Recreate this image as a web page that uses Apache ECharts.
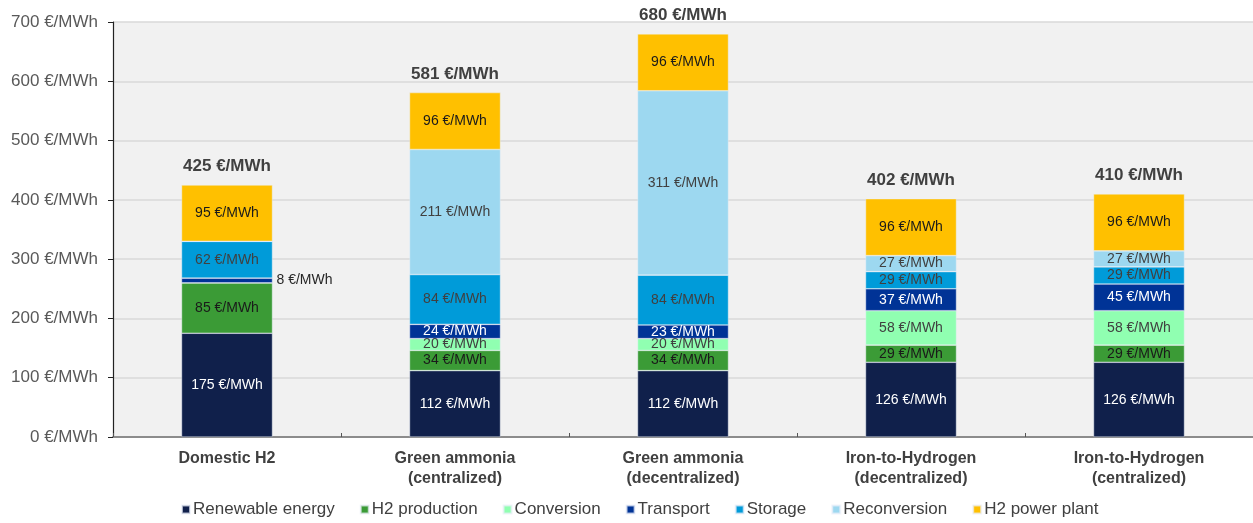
<!DOCTYPE html>
<html>
<head>
<meta charset="utf-8">
<script src="https://cdn.jsdelivr.net/npm/echarts@6/dist/echarts.min.js"></script>
<style>
  html, body { margin: 0; padding: 0; background: #ffffff; }
  #chart { width: 1253px; height: 523px; }
</style>
</head>
<body>
<div id="chart"></div>
<script>
// Cost pathways (€/MWh), stacked by cost component
const categories = [
  'Domestic H2',
  'Green ammonia\n(centralized)',
  'Green ammonia\n(decentralized)',
  'Iron-to-Hydrogen\n(decentralized)',
  'Iron-to-Hydrogen\n(centralized)'
];
const renewableEnergy = [175, 112, 112, 126, 126];
const h2Production    = [85, 34, 34, 29, 29];
const conversion      = [0, 20, 20, 58, 58];
const transport       = [8, 24, 23, 37, 45];
const storage         = [62, 84, 84, 29, 29];
const reconversion    = [0, 211, 311, 27, 27];
const h2PowerPlant    = [95, 96, 96, 96, 96];
const totals          = [425, 581, 680, 402, 410];
const yTicks          = [0, 100, 200, 300, 400, 500, 600, 700];

const unit = ' €/MWh';
const FONT = '"Liberation Sans", Arial, sans-serif';

const components = [
  { name: 'Renewable energy', data: renewableEnergy, color: '#10204b', text: '#ffffff' },
  { name: 'H2 production',    data: h2Production,    color: '#3b9b36', text: '#1a1a1a' },
  { name: 'Conversion',       data: conversion,      color: '#90ffb1', text: '#404040' },
  { name: 'Transport',        data: transport,       color: '#003396', text: '#ffffff' },
  { name: 'Storage',          data: storage,         color: '#009bd9', text: '#404040' },
  { name: 'Reconversion',     data: reconversion,    color: '#9dd8f0', text: '#404040' },
  { name: 'H2 power plant',   data: h2PowerPlant,    color: '#ffc000', text: '#1a1a1a' }
];

const series = components.map(c => ({
  name: c.name,
  type: 'bar',
  stack: 'cost',
  barWidth: 91,
  itemStyle: { color: c.color, borderColor: 'rgba(235,240,250,0.7)', borderWidth: 0.6 },
  label: {
    show: true,
    position: 'inside',
    color: c.text,
    fontFamily: FONT,
    fontSize: 14,
    formatter: p => (p.value > 0 ? p.value + unit : '')
  },
  data: c.data.map((v, i) => {
    // small Domestic H2 transport slice: label sits beside the bar
    if (c.name === 'Transport' && v < 12) {
      return { value: v, label: { position: 'right', distance: 4, color: '#262626' } };
    }
    return v;
  })
}));

// total labels above each stack
series.push({
  name: 'Total',
  type: 'bar',
  stack: 'cost',
  barWidth: 91,
  itemStyle: { color: 'transparent' },
  label: {
    show: true,
    position: 'top',
    distance: 10,
    color: '#404040',
    fontFamily: FONT,
    fontSize: 17,
    fontWeight: 'bold',
    formatter: p => totals[p.dataIndex] + unit
  },
  data: totals.map(() => 0)
});

const chart = echarts.init(document.getElementById('chart'), null, { renderer: 'canvas' });
chart.setOption({
  animation: false,
  backgroundColor: '#ffffff',
  textStyle: { fontFamily: FONT },
  grid: {
    left: 113, right: 0, top: 22, bottom: 86,
    show: true, backgroundColor: '#f1f1f1', borderWidth: 0
  },
  legend: {
    data: components.map(c => c.name),
    bottom: 0,
    left: 176,
    icon: 'rect',
    itemWidth: 8,
    itemHeight: 8,
    itemGap: 25,
    textStyle: { color: '#404040', fontSize: 17, fontFamily: FONT, padding: [0, 0, 0, -2] }
  },
  xAxis: {
    type: 'category',
    data: categories,
    axisLine: { lineStyle: { color: '#8c8c8c', width: 2 } },
    axisTick: { show: true, inside: true, length: 4, lineStyle: { color: '#555555' } },
    axisLabel: {
      color: '#404040', fontSize: 16, fontWeight: 'bold',
      fontFamily: FONT, lineHeight: 20, margin: 12
    }
  },
  yAxis: {
    type: 'value',
    min: yTicks[0],
    max: yTicks[yTicks.length - 1],
    interval: 100,
    axisLine: { show: true, lineStyle: { color: '#222222', width: 1.2 } },
    axisTick: { show: true, length: 5, lineStyle: { color: '#222222' } },
    splitLine: { lineStyle: { color: '#d9d9d9', width: 1.5 } },
    axisLabel: {
      color: '#595959', fontSize: 17, fontFamily: FONT, margin: 15,
      formatter: v => v + unit
    }
  },
  series: series
});
</script>
</body>
</html>
